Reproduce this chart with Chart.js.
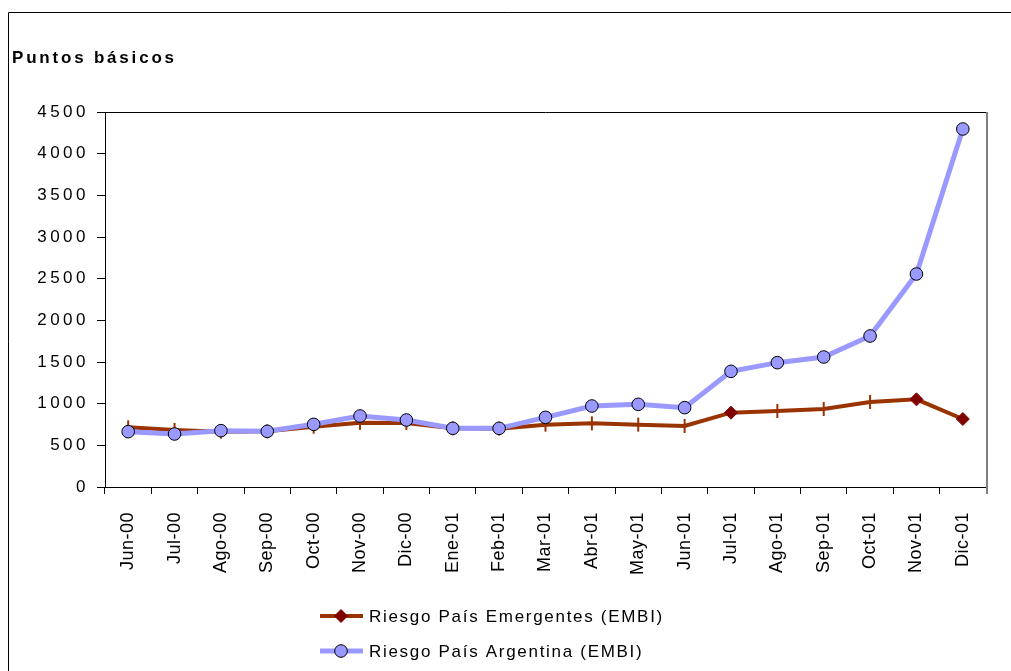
<!DOCTYPE html>
<html>
<head>
<meta charset="utf-8">
<script src="https://cdn.jsdelivr.net/npm/chart.js@4.4.1/dist/chart.umd.min.js"></script>
<style>
  body { margin: 0; background: #fff; }
  #wrap { width: 1011px; height: 671px; }
</style>
</head>
<body>
<div id="wrap"><canvas id="riskChart"></canvas></div>
<script>
// Data
const months = ['Jun-00', 'Jul-00', 'Ago-00', 'Sep-00', 'Oct-00', 'Nov-00', 'Dic-00', 'Ene-01', 'Feb-01', 'Mar-01',
    'Abr-01', 'May-01', 'Jun-01', 'Jul-01', 'Ago-01', 'Sep-01', 'Oct-01', 'Nov-01', 'Dic-01'];
const emergentes = [716, 684, 664, 668, 724, 770, 768, 704, 700, 748, 764, 748, 732, 892, 912, 936, 1020, 1052, 816];
const argentina = [664, 636, 676, 668, 752, 852, 804, 704, 704, 836, 972, 992, 952, 1388, 1492, 1560, 1812, 2556, 4296];
const yTicks = [0, 500, 1000, 1500, 2000, 2500, 3000, 3500, 4000, 4500];
const diamondMonths = ['Jul-01', 'Nov-01', 'Dic-01'];

const FONT = 'Liberation Sans, Arial, sans-serif';
const BROWN = '#993300';
const DARK_RED = '#800000';
const LAVENDER = '#9999FF';

// frame, title, plot box and legend
const decorPlugin = {
    id: 'decor',
    beforeDraw(chart) {
        const ctx = chart.ctx;
        ctx.letterSpacing = '3.5px';
        const xs = chart.scales.x;
        if (!xs._plainLabels) {
            const orig = xs.drawLabels;
            xs.drawLabels = function (area) {
                const old = this.ctx.letterSpacing;
                this.ctx.letterSpacing = '0.5px';
                orig.call(this, area);
                this.ctx.letterSpacing = old;
            };
            xs._plainLabels = true;
        }
    },
    afterDraw(chart) {
        const ctx = chart.ctx;
        const area = chart.chartArea;
        ctx.save();
        // outer frame
        ctx.strokeStyle = '#000';
        ctx.lineWidth = 1;
        ctx.beginPath();
        ctx.moveTo(8.5, 671);
        ctx.lineTo(8.5, 12.5);
        ctx.lineTo(1011, 12.5);
        ctx.stroke();
        // plot box top and right
        ctx.beginPath();
        ctx.moveTo(area.left, Math.round(area.top) + 0.5);
        ctx.lineTo(area.right, Math.round(area.top) + 0.5);
        ctx.stroke();
        ctx.strokeStyle = '#808080';
        ctx.lineWidth = 2;
        ctx.beginPath();
        ctx.moveTo(area.right + 1, area.top);
        ctx.lineTo(area.right + 1, area.bottom + 7);
        ctx.stroke();

        // title
        ctx.fillStyle = '#000';
        ctx.letterSpacing = '2.8px';
        ctx.font = 'bold 17px ' + FONT;
        ctx.textAlign = 'left';
        ctx.textBaseline = 'alphabetic';
        ctx.fillText('Puntos básicos', 12, 63);

        // legend
        ctx.letterSpacing = '1.7px';
        ctx.font = '17px ' + FONT;
        ctx.textBaseline = 'middle';
        const rows = [616, 651];
        chart.data.datasets.forEach((ds, i) => {
            const y = rows[i];
            ctx.strokeStyle = ds.borderColor;
            ctx.lineWidth = ds.borderWidth;
            ctx.beginPath();
            ctx.moveTo(320, y);
            ctx.lineTo(363, y);
            ctx.stroke();
            ctx.beginPath();
            if (i === 0) {
                ctx.fillStyle = DARK_RED;
                ctx.moveTo(341, y - 7);
                ctx.lineTo(348, y);
                ctx.lineTo(341, y + 7);
                ctx.lineTo(334, y);
                ctx.closePath();
                ctx.fill();
            } else {
                ctx.fillStyle = LAVENDER;
                ctx.strokeStyle = '#000';
                ctx.lineWidth = 1;
                ctx.arc(341, y, 6.3, 0, Math.PI * 2);
                ctx.fill();
                ctx.stroke();
            }
            ctx.fillStyle = '#000';
            ctx.fillText(ds.label, 369, y + 1);
        });
        ctx.restore();
        ctx.letterSpacing = '0px';
    }
};

const isDiamond = c => diamondMonths.includes(months[c.dataIndex]);

const chartData = {
    labels: months,
    datasets: [
        {
            label: 'Riesgo País Emergentes (EMBI)',
            data: emergentes,
            borderColor: BROWN,
            borderWidth: 4,
            tension: 0,
            order: 1,
            pointStyle: c => isDiamond(c) ? 'rectRot' : 'line',
            rotation: c => isDiamond(c) ? 0 : 90,
            pointRadius: c => isDiamond(c) ? 6.5 : 7,
            pointBackgroundColor: DARK_RED,
            pointBorderColor: c => isDiamond(c) ? DARK_RED : BROWN,
            pointBorderWidth: c => isDiamond(c) ? 1 : 2
        },
        {
            label: 'Riesgo País Argentina (EMBI)',
            data: argentina,
            borderColor: LAVENDER,
            borderWidth: 5,
            tension: 0,
            order: 0,
            pointStyle: 'circle',
            pointRadius: 6.3,
            pointBackgroundColor: LAVENDER,
            pointBorderColor: '#000',
            pointBorderWidth: 1
        }
    ]
};

const config = {
    type: 'line',
    data: chartData,
    options: {
        responsive: true,
        maintainAspectRatio: false,
        animation: false,
        layout: { padding: { left: 8, top: 112, right: 25, bottom: 94 } },
        plugins: {
            legend: { display: false },
            title: { display: false },
            tooltip: { enabled: false }
        },
        scales: {
            x: {
                offset: true,
                grid: { offset: true, drawOnChartArea: false, tickLength: 7, color: '#000' },
                border: { color: '#000', width: 1 },
                ticks: {
                    autoSkip: false, minRotation: 90, maxRotation: 90, padding: 18,
                    color: '#000', font: { family: FONT, size: 18 }
                },
                afterFit: s => { s.height = 90; }
            },
            y: {
                min: 0,
                max: 4500,
                afterBuildTicks: s => { s.ticks = yTicks.map(v => ({ value: v })); },
                grid: { drawOnChartArea: false, tickLength: 8, color: '#000' },
                border: { color: '#000', width: 1 },
                ticks: {
                    padding: 8, color: '#000', font: { family: FONT, size: 17 },
                    callback: v => String(v)
                },
                afterFit: s => { s.width = 97; }
            }
        }
    },
    plugins: [decorPlugin]
};

const riskChart = new Chart(document.getElementById('riskChart'), config);
</script>
</body>
</html>
